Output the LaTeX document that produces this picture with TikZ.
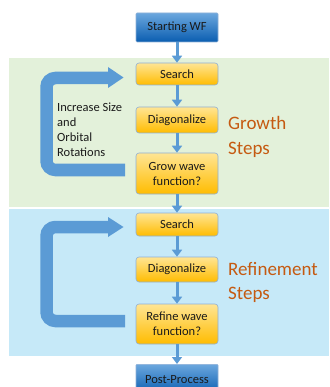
\documentclass[tikz,border=0pt]{standalone}
\usepackage{fontspec}
\setmainfont{Carlito}
\usetikzlibrary{arrows.meta}
\definecolor{bandgreen}{HTML}{E3F1DA}
\definecolor{bandblue}{HTML}{C6E9F8}
\definecolor{arrowblue}{HTML}{5B9BD5}
\definecolor{boxedge}{HTML}{8FB0D6}
\definecolor{orangetop}{HTML}{FFE594}
\definecolor{orangebot}{HTML}{FFBC00}
\definecolor{bluetop}{HTML}{6BA7DE}
\definecolor{bluebot}{HTML}{0A5DB0}
\definecolor{labelorange}{HTML}{C55A11}
\definecolor{boxtext}{HTML}{1A1A1A}
\tikzset{
  stepbox/.style={draw=boxedge, line width=0.6pt, rounded corners=3pt,
    top color=orangetop, bottom color=orangebot, minimum width=82pt,
    align=center, font=\fontsize{12.5}{15}\selectfont, text=boxtext, inner sep=1pt},
  endbox/.style={draw=boxedge, line width=0.6pt, rounded corners=1pt,
    top color=bluetop, bottom color=bluebot, minimum width=82pt,
    align=center, font=\fontsize{12.5}{15}\selectfont, text=boxtext, inner sep=1pt},
  flow/.style={draw=arrowblue, line width=3pt, -{Triangle[width=10pt,length=7pt]}},
  loopshaft/.style={draw=arrowblue, line width=12.5pt, rounded corners=9pt, line cap=butt},
  loophead/.style={fill=arrowblue},
  steplabel/.style={font=\fontsize{19}{24}\selectfont, text=labelorange, anchor=base west, inner sep=0pt},
}
\begin{document}
\begin{tikzpicture}[x=1pt,y=-1pt]
\useasboundingbox (0,0) rectangle (329,387);
\begin{scope}
\clip (0,0) rectangle (329,387);
% bands
\fill[bandgreen] (9,58) rectangle (329,207);
\fill[bandblue] (9,209) rectangle (329,356);

% boxes
\node[endbox, minimum height=29pt] (start) at (177,27.5) {Starting WF};
\node[stepbox, minimum height=22pt] (search1) at (177,74) {Search};
\node[stepbox, minimum height=26pt] (diag1) at (177,120) {Diagonalize};
\node[stepbox, minimum height=41pt] (grow) at (177,173.5) {Grow wave\\function?};
\node[stepbox, minimum height=23pt] (search2) at (177,224.5) {Search};
\node[stepbox, minimum height=25pt] (diag2) at (177,269.5) {Diagonalize};
\node[stepbox, minimum height=40pt] (refine) at (177,324) {Refine wave\\function?};
\node[endbox, minimum height=30pt, anchor=north] (post) at (177,364) {\raisebox{-5pt}{Post-Process}};
\end{scope}

% flow arrows
\draw[flow] (start.south) -- (search1.north);
\draw[flow] (search1.south) -- (diag1.north);
\draw[flow] (diag1.south) -- (grow.north);
\draw[flow] (grow.south) -- (search2.north);
\draw[flow] (search2.south) -- (diag2.north);
\draw[flow] (diag2.south) -- (refine.north);
\draw[flow] (refine.south) -- (post.north);

% growth loop arrow
\coordinate (g1) at (125,170);
\coordinate (g2) at (46.5,170);
\coordinate (g3) at (46.5,78);
\coordinate (g4) at (108.5,78);
\draw[loopshaft] (g1) -- (g2) -- (g3) -- (g4);
\fill[loophead] (108,67) -- (123.5,77.5) -- (108,88) -- cycle;

% refinement loop arrow
\coordinate (r1) at (125,321);
\coordinate (r2) at (46.5,321);
\coordinate (r3) at (46.5,227);
\coordinate (r4) at (108.5,227);
\draw[loopshaft] (r1) -- (r2) -- (r3) -- (r4);
\fill[loophead] (108,217) -- (123.5,227) -- (108,237) -- cycle;

% texts
\node[anchor=north west, align=left, inner sep=0pt,
  font=\fontsize{12.5}{15}\selectfont, text=boxtext] (inc) at (57,102.5)
  {Increase Size\\and\\Orbital\\Rotations};
\node[steplabel] (gr1) at (228,130) {Growth};
\node[steplabel] (gr2) at (228,154) {Steps};
\node[steplabel] (rf1) at (228,275) {Refinement};
\node[steplabel] (rf2) at (228,299) {Steps};
\end{tikzpicture}
\end{document}
